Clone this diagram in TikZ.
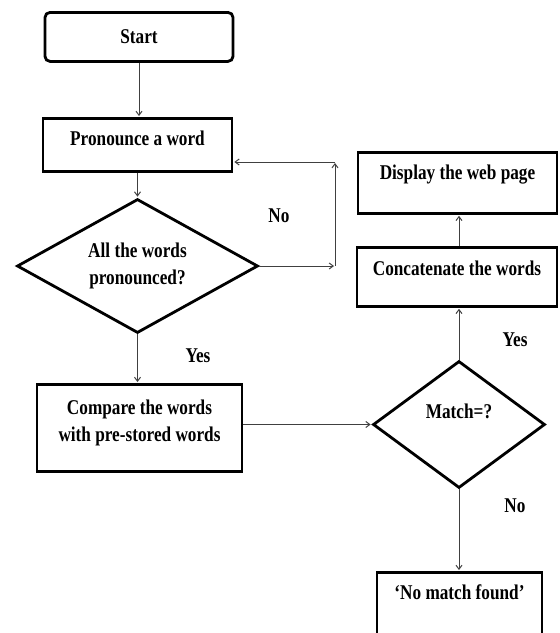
\documentclass[tikz,border=0pt]{standalone}
\usepackage{fontspec}
\setmainfont[FakeStretch=0.82]{Liberation Serif}
\usetikzlibrary{shapes.geometric,arrows.meta}
\begin{document}
\begin{tikzpicture}[x=1pt,y=-1pt,
  txt/.style={font=\fontsize{21}{27}\selectfont\bfseries},
  box/.style={txt, draw=black, line width=2.8pt, rectangle, inner xsep=0pt, inner ysep=0pt, anchor=north},
  dia/.style={txt, diamond, draw=black, line width=2.8pt, inner sep=0pt, align=center},
  lbl/.style={txt},
  conn/.style={draw=black!75, line width=1pt, shorten >=1pt, -{Straight Barb[length=4pt,width=6pt]}}]
\useasboundingbox (0,0) rectangle (560,633);
\clip (0,0) rectangle (560,633);

% boxes
\node[box, rounded corners=5pt, minimum width=188pt, text height=31pt, text depth=18pt] (start) at (139,11) {Start};
\node[box, minimum width=189pt, text height=27pt, text depth=26pt] (pron) at (137.5,117) {Pronounce a word};
\node[box, minimum width=205pt, text height=43.5pt, text depth=43.5pt] (cmp) at (139.5,383)
  {\begin{tabular}{@{}c@{}}Compare the words\\with pre-stored words\end{tabular}};
\node[box, minimum width=199pt, text height=27pt, text depth=34pt] (disp) at (457.5,151) {Display the web page};
\node[box, minimum width=200pt, text height=28pt, text depth=31pt] (cat) at (457,246) {Concatenate the words};
\node[box, minimum width=165pt, text height=27pt, text depth=45pt] (nm) at (459.5,571) {`No match found'};

% diamonds
\node[dia, minimum width=241pt, minimum height=134pt, aspect=1.8] (all) at (137.5,266) {All the words\\pronounced?};
\node[dia, minimum width=172pt, minimum height=127pt, aspect=1.35, text height=20pt, text depth=32pt] (match) at (459,424.5) {Match=?};

% labels
\node[lbl] (no1) at (279,216) {No};
\node[lbl] (yes1) at (198,356) {Yes};
\node[lbl] (yes2) at (515,340) {Yes};
\node[lbl] (no2) at (515,506) {No};

% loop corners
\coordinate (c1) at (335,266);
\coordinate (c2) at (335,162);

% connectors
\draw[conn] (start.south) -- (start.south |- pron.north);
\draw[conn] (pron.south) -- (pron.south |- all.north);
\draw[conn] (all.south) -- (all.south |- cmp.north);
\draw[conn] (all.east) -- (c1);
\draw[conn] (c1) -- (c2);
\draw[conn] (c2) -- (c2 -| pron.east);
\draw[conn] (cmp.east |- match.west) -- (match.west);
\draw[conn] (match.north) -- (match.north |- cat.south);
\draw[conn] (match.north |- cat.north) -- (match.north |- disp.south);
\draw[conn] (match.south) -- (match.south |- nm.north);
\end{tikzpicture}
\end{document}
